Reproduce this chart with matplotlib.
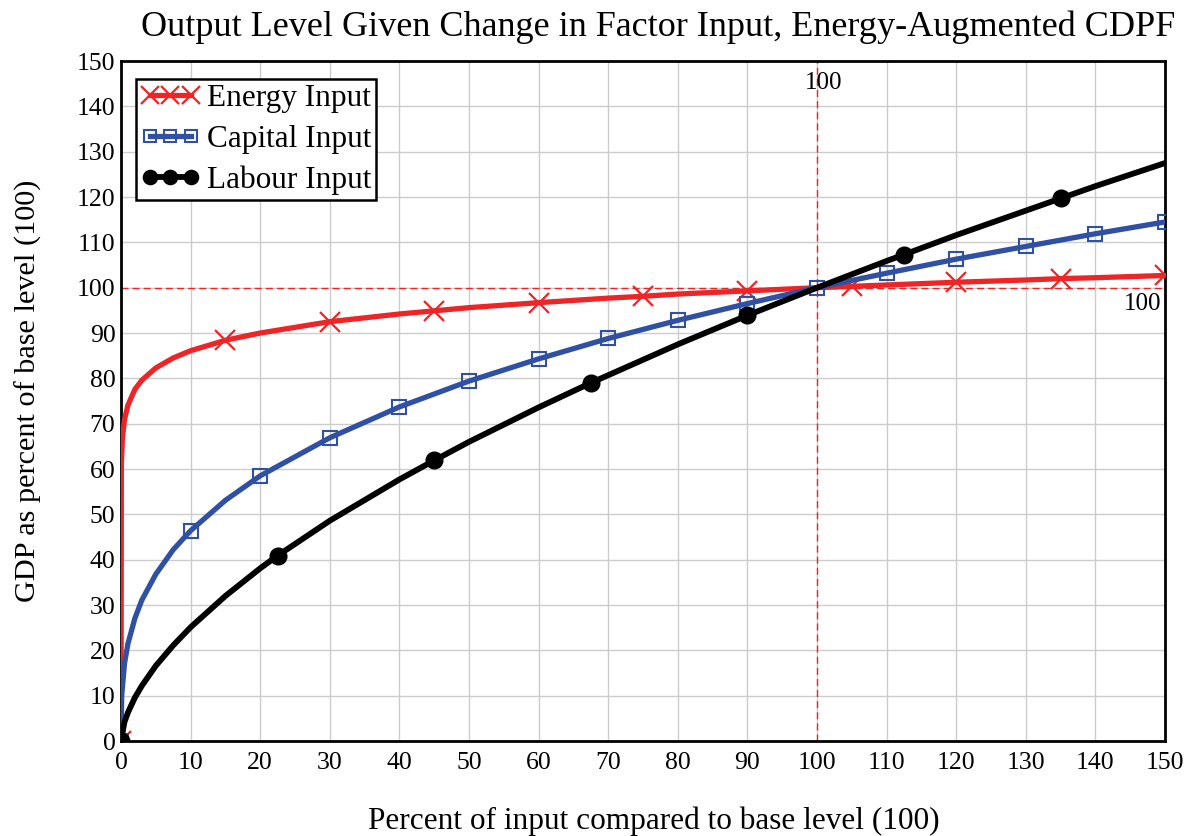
import matplotlib
matplotlib.use("Agg")
import matplotlib.pyplot as plt

plt.rcParams['font.family'] = ['Liberation Serif', 'DejaVu Serif']

# ---- data ----
energy_x = [0, 0.05, 0.2, 0.5, 1, 2, 3, 5, 7.5, 10, 15, 20, 30, 40, 45, 50, 60, 70, 75, 80, 90,
            100, 105, 110, 120, 130, 135, 140, 150]
energy_y = [0, 61.0, 66.8, 70.9, 74.1, 77.6, 79.6, 82.3, 84.5, 86.1, 88.4, 90.0, 92.5, 94.2, 94.9,
            95.6, 96.7, 97.7, 98.1, 98.6, 99.3, 100, 100.3, 100.6, 101.2, 101.7, 102.0, 102.2, 102.7]
energy_marks = [0, 15, 30, 45, 60, 75, 90, 105, 120, 135, 150]

capital_x = [0, 0.1, 0.5, 1, 2, 3, 5, 7.5, 10, 15, 20, 30, 40, 50, 60, 70, 80, 90, 100,
             110, 120, 130, 140, 150]
capital_y = [0, 10.0, 17.1, 21.5, 27.1, 31.1, 36.8, 42.2, 46.4, 53.1, 58.5, 66.9, 73.7, 79.4,
             84.3, 88.8, 92.8, 96.5, 100, 103.2, 106.3, 109.1, 111.9, 114.5]
capital_marks = [0, 10, 20, 30, 40, 50, 60, 70, 80, 90, 100, 110, 120, 130, 140, 150]

labour_x = [0, 0.5, 1, 2, 3, 5, 7.5, 10, 15, 20, 22.5, 30, 40, 45, 50, 60, 67.5, 70, 80, 90,
            100, 110, 112.5, 120, 130, 135, 140, 150]
labour_y = [0, 4.2, 6.3, 9.6, 12.2, 16.6, 21.1, 25.1, 32.0, 38.1, 40.9, 48.6, 57.7, 61.9, 66.0,
            73.6, 79.0, 80.7, 87.5, 93.9, 100, 105.9, 107.3, 111.6, 117.0, 119.7, 122.4, 127.5]
labour_marks = [0, 22.5, 45, 67.5, 90, 112.5, 135]

ticks = list(range(0, 151, 10))
base_level = 100

title = "Output Level Given Change in Factor Input, Energy-Augmented CDPF"
xlabel = "Percent of input compared to base level (100)"
ylabel = "GDP as percent of base level (100)"

# ---- figure ----
fig = plt.figure(figsize=(11.98, 8.36), dpi=100)
ax = fig.add_axes([0.101, 0.1136, 0.8715, 0.8134])

red = '#EE2426'
blue = '#3050A4'
black = '#000000'

def idx(xs, marks):
    return [xs.index(m) for m in marks]

ax.plot(energy_x, energy_y, color=red, lw=3.8, marker='x', markersize=15, mew=1.6,
        markevery=idx(energy_x, energy_marks), label='Energy Input', zorder=3)
ax.plot(capital_x, capital_y, color=blue, lw=3.8, marker='s', markersize=10, mew=1.5,
        mfc='none', mec=blue, markevery=idx(capital_x, capital_marks),
        label='Capital Input', zorder=4)
ax.plot(labour_x, labour_y, color=black, lw=4.2, marker='o', markersize=12,
        markevery=idx(labour_x, labour_marks), label='Labour Input', zorder=5)

ax.axvline(base_level, color=red, lw=1, ls=(0, (5, 3)), zorder=2)
ax.axhline(base_level, color=red, lw=1, ls=(0, (5, 3)), zorder=2)
ax.text(base_level + 0.9, 147.6, "100", fontsize=18, ha='center', va='top')
ax.text(149.5, 98.8, "100", fontsize=18, ha='right', va='top')

ax.set_xlim(0, 150)
ax.set_ylim(0, 150)
ax.set_xticks(ticks)
ax.set_yticks(ticks)
ax.tick_params(length=0, labelsize=18.5)
ax.tick_params(axis='x', pad=8)
ax.tick_params(axis='y', pad=4)
ax.grid(True, color='#CCCCCC', lw=1)
ax.set_axisbelow(True)
for s in ax.spines.values():
    s.set_linewidth(2)
    s.set_color('black')

fig.text(0.549, 0.968, title, ha='center', va='center', fontsize=26)
fig.text(0.546, 0.018, xlabel, ha='center', va='center', fontsize=22.5)
fig.text(0.0235, 0.532, ylabel, ha='center', va='center', fontsize=21.8, rotation=90)

leg = ax.legend(loc='upper left', bbox_to_anchor=(0.0144, 0.9735), fontsize=22.5, numpoints=3,
                fancybox=False, framealpha=1, edgecolor='black', handlelength=1.9,
                handletextpad=0.22, borderpad=0.15, labelspacing=0.38, borderaxespad=0,
                markerscale=0.85)
leg.get_frame().set_linewidth(1.8)

fig.savefig('out.png', dpi=100)
